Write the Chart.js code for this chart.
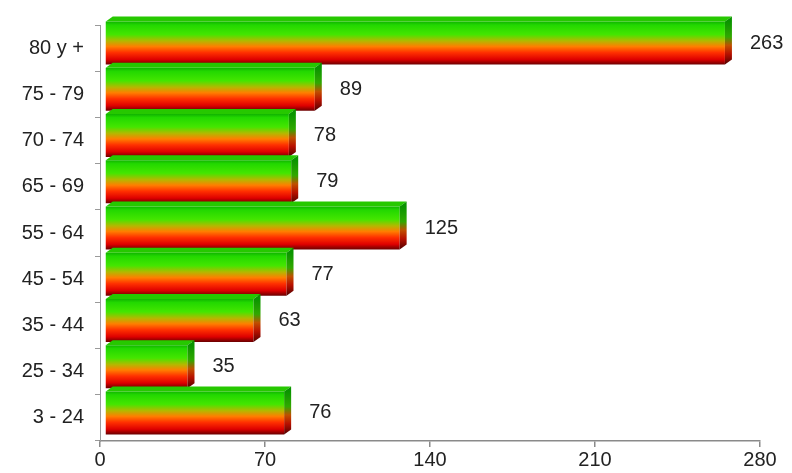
<!DOCTYPE html>
<html>
<head>
<meta charset="utf-8">
<script src="https://cdn.jsdelivr.net/npm/chart.js"></script>
</head>
<body style="margin:0;padding:0;background:#fff">
<div style="position:relative;width:792px;height:473px"><canvas id="canvas"></canvas></div>
<script>
const categories = ['80 y +','75 - 79','70 - 74','65 - 69','55 - 64','45 - 54','35 - 44','25 - 34','3 - 24'];
const values = [263,89,78,79,125,77,63,35,76];
const xTicks = [0,70,140,210,280];

// 3d look: front face is pushed right/up a bit, side + top faces drawn around it
const shift = {x:5, y:-5};
const depth = {x:7, y:5};

function frontGradient(ctx, top, bottom) {
    let g = ctx.createLinearGradient(0, top, 0, bottom);
    g.addColorStop(0, '#10b400');
    g.addColorStop(0.08, '#22d800');
    g.addColorStop(0.3, '#44e600');
    g.addColorStop(0.45, '#b4b800');
    g.addColorStop(0.58, '#ff7e00');
    g.addColorStop(0.72, '#ff3000');
    g.addColorStop(0.88, '#de0000');
    g.addColorStop(1, '#6a0000');
    return g;
}
function sideGradient(ctx, top, bottom) {
    let g = ctx.createLinearGradient(0, top, 0, bottom);
    g.addColorStop(0, '#0a9400');
    g.addColorStop(0.35, '#30a800');
    g.addColorStop(0.55, '#c05000');
    g.addColorStop(0.75, '#b81000');
    g.addColorStop(1, '#500000');
    return g;
}

const bars3d = {
    id:'bars3d',
    beforeDatasetsDraw(chart) {
        chart.ctx.save();
        chart.ctx.translate(shift.x, shift.y);
    },
    afterDatasetsDraw(chart) {
        let ctx = chart.ctx;
        chart.getDatasetMeta(0).data.forEach((bar, i) => {
            let x0 = bar.base, x1 = bar.x;
            let top = bar.y - bar.height/2, bottom = bar.y + bar.height/2;
            // top face
            ctx.beginPath();
            ctx.moveTo(x0, top);
            ctx.lineTo(x0 + depth.x, top - depth.y);
            ctx.lineTo(x1 + depth.x, top - depth.y);
            ctx.lineTo(x1, top);
            ctx.closePath();
            ctx.fillStyle = '#26c800';
            ctx.fill();
            // right face
            ctx.beginPath();
            ctx.moveTo(x1, top);
            ctx.lineTo(x1 + depth.x, top - depth.y);
            ctx.lineTo(x1 + depth.x, bottom - depth.y);
            ctx.lineTo(x1, bottom);
            ctx.closePath();
            ctx.fillStyle = sideGradient(ctx, top, bottom);
            ctx.fill();
            // value label
            ctx.fillStyle = '#222';
            ctx.font = '20px "Liberation Sans", Arial, sans-serif';
            ctx.textAlign = 'left';
            ctx.textBaseline = 'middle';
            ctx.fillText(String(values[i]), x1 + depth.x + 18, bar.y);
        });
        ctx.restore();
    }
};

const canvas = document.getElementById('canvas');
const chart = new Chart(canvas.getContext('2d'), {
    type:'bar',
    data:{
        labels:categories,
        datasets:[{
            data:values,
            backgroundColor:(c) => {
                let area = c.chart.chartArea;
                if (!area || c.dataIndex === undefined) return '#ff5500';
                let ys = c.chart.scales.y;
                let half = (area.bottom - area.top) / categories.length * 0.93 / 2;
                let center = ys.getPixelForValue(c.dataIndex);
                return frontGradient(c.chart.ctx, center - half, center + half);
            },
            borderWidth:0,
            categoryPercentage:1,
            barPercentage:0.93
        }]
    },
    options:{
        indexAxis:'y',
        animation:false,
        responsive:true,
        maintainAspectRatio:false,
        layout:{padding:{top:25, right:32, left:0, bottom:0}},
        plugins:{legend:{display:false}, tooltip:{enabled:false}},
        scales:{
            x:{
                min:0, max:280,
                afterBuildTicks:(s) => { s.ticks = xTicks.map(v => ({value:v})); },
                afterFit:(s) => { s.height = 32; },
                ticks:{color:'#222', font:{size:20, family:'"Liberation Sans", Arial, sans-serif'}, padding:1, maxRotation:0},
                grid:{drawOnChartArea:false, tickLength:6, color:'#8a8a8a', lineWidth:1.5},
                border:{color:'#8a8a8a', width:1.5}
            },
            y:{
                afterFit:(s) => { s.width = 100; },
                ticks:{color:'#222', font:{size:20, family:'"Liberation Sans", Arial, sans-serif'}, padding:11},
                grid:{drawOnChartArea:false, tickLength:5, color:'#9a9a9a', offset:true},
                border:{color:'#9a9a9a', width:1}
            }
        }
    },
    plugins:[bars3d]
});
</script>
</body>
</html>
